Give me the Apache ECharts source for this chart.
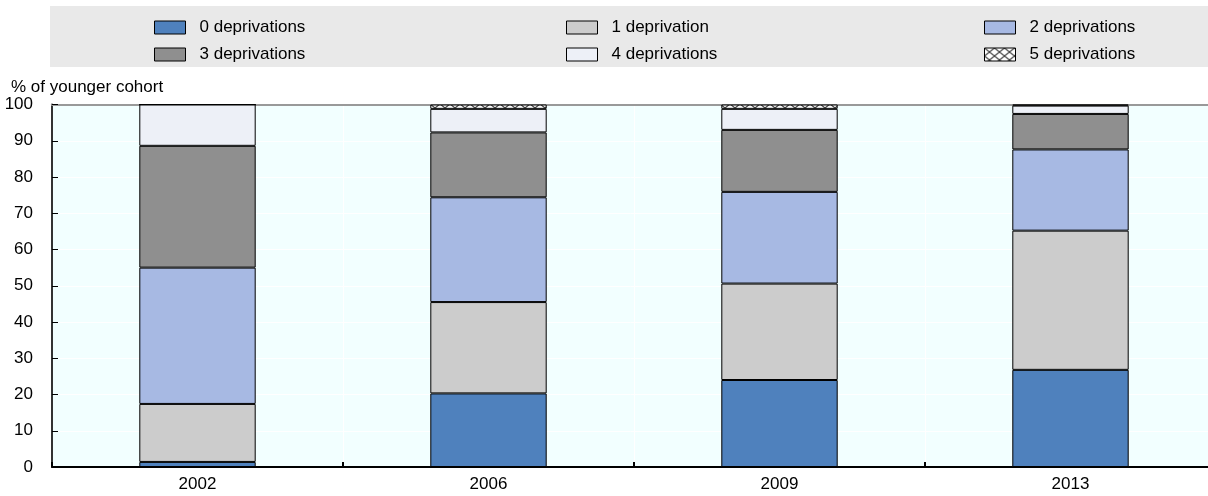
<!DOCTYPE html>
<html>
<head>
<meta charset="utf-8">
<script src="https://cdn.jsdelivr.net/npm/echarts@6/dist/echarts.min.js"></script>
<style>
html,body{margin:0;padding:0;background:#fff;}
#chart{width:1208px;height:496px;}
</style>
</head>
<body>
<div id="chart"></div>
<script>
const categories = ['2002', '2006', '2009', '2013'];
const seriesNames = ['0 deprivations', '1 deprivation', '2 deprivations', '3 deprivations', '4 deprivations', '5 deprivations'];
const dep0 = [1.4, 20.3, 24.0, 26.8];
const dep1 = [16.0, 25.2, 26.6, 38.4];
const dep2 = [37.6, 28.9, 25.3, 22.4];
const dep3 = [33.6, 17.9, 17.1, 9.8];
const dep4 = [11.4, 6.5, 5.8, 2.3];
const dep5 = [0, 1.2, 1.2, 0.3];
const yTicks = [0, 10, 20, 30, 40, 50, 60, 70, 80, 90, 100];
const yAxisTitle = '% of younger cohort';

const FONT = "'Liberation Sans', Arial, sans-serif";
const FS = 17;

// hatch pattern for 5 deprivations
const pc = document.createElement('canvas');
pc.width = 10; pc.height = 8;
const px = pc.getContext('2d');
px.fillStyle = '#ffffff';
px.fillRect(0, 0, 10, 8);
px.strokeStyle = '#444444';
px.lineWidth = 1.2;
px.beginPath();
px.moveTo(0, 0); px.lineTo(10, 8);
px.moveTo(10, 0); px.lineTo(0, 8);
px.stroke();

const colors = ['#4F81BD', '#CCCCCC', '#A7B9E3', '#8F8F8F', '#EDF0F7', {image: pc, repeat: 'repeat'}];
const values = [dep0, dep1, dep2, dep3, dep4, dep5];

const chart = echarts.init(document.getElementById('chart'), null, {renderer: 'canvas'});

const legendPos = [
  {left: 154, top: 19}, {left: 566, top: 19}, {left: 984, top: 19},
  {left: 154, top: 46}, {left: 566, top: 46}, {left: 984, top: 46}
];
const legends = seriesNames.map((nm, i) => ({
  data: [{name: nm, icon: 'rect'}],
  left: legendPos[i].left,
  top: legendPos[i].top,
  padding: 0,
  itemWidth: 31,
  itemHeight: 13,
  selectedMode: false,
  itemStyle: {borderColor: '#000', borderWidth: 1},
  textStyle: {fontFamily: FONT, fontSize: FS, color: '#000', padding: [0, 0, 0, 9]}
}));

const series = values.map((v, i) => ({
  name: seriesNames[i],
  type: 'bar',
  stack: 'total',
  barWidth: '40%',
  data: v,
  itemStyle: {color: colors[i], borderColor: '#000', borderWidth: 1},
  emphasis: {disabled: true}
}));

chart.setOption({
  animation: false,
  textStyle: {fontFamily: FONT},
  graphic: [{
    type: 'rect', z: -10,
    shape: {x: 50, y: 6, width: 1158, height: 61},
    style: {fill: '#E9E9E9'}
  }],
  legend: legends,
  grid: {left: 52, right: -8, top: 104.5, bottom: 29, show: true, backgroundColor: '#F2FFFF', borderWidth: 0, outerBoundsMode: 'none', containLabel: false},
  xAxis: [{
    type: 'category',
    data: categories,
    axisLine: {show: true, lineStyle: {color: '#000', width: 2}},
    axisTick: {show: true, inside: true, length: 5, lineStyle: {color: '#000', width: 2}},
    axisLabel: {color: '#000', fontSize: FS, fontFamily: FONT, margin: 9},
    splitLine: {show: true, lineStyle: {color: '#ffffff', width: 1}}
  }, {
    type: 'category',
    data: categories,
    position: 'top',
    axisLine: {show: true, lineStyle: {color: '#999', width: 2}},
    axisTick: {show: false},
    axisLabel: {show: false},
    splitLine: {show: false}
  }],
  yAxis: {
    type: 'value',
    min: yTicks[0],
    max: yTicks[yTicks.length - 1],
    interval: 10,
    name: yAxisTitle,
    nameLocation: 'end',
    nameGap: 8,
    nameTextStyle: {align: 'left', color: '#000', fontSize: FS, fontFamily: FONT, padding: [0, 0, 0, -41]},
    axisLine: {show: true, lineStyle: {color: '#333', width: 2}},
    axisTick: {show: true, inside: true, length: 6, lineStyle: {color: '#000'}},
    axisLabel: {color: '#000', fontSize: FS, fontFamily: FONT, margin: 19},
    splitLine: {show: true, lineStyle: {color: '#ffffff', width: 1}}
  },
  series: series
});
</script>
</body>
</html>
